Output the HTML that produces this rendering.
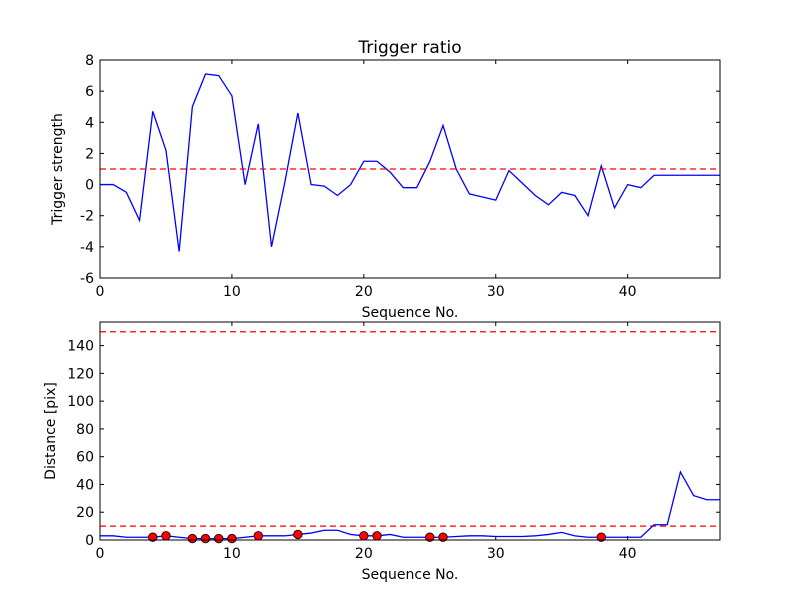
<!DOCTYPE html>
<html><head><meta charset="utf-8"><style>
body{margin:0;background:#fff;}
svg text{font-family:"DejaVu Sans","Liberation Sans",sans-serif;}
</style></head><body>
<svg id="c" width="800" height="600" xmlns="http://www.w3.org/2000/svg">
<rect width="800" height="600" fill="#fff"/>
</svg>
<script>
const seq = [0,1,2,3,4,5,6,7,8,9,10,11,12,13,14,15,16,17,18,19,20,21,22,23,24,25,26,27,28,29,30,31,32,33,34,35,36,37,38,39,40,41,42,43,44,45,46,47];
const strength = [0,0,-0.5,-2.3,4.7,2.2,-4.3,5.0,7.1,7.0,5.7,0,3.9,-4.0,0.1,4.6,0,-0.1,-0.7,0,1.5,1.5,0.8,-0.2,-0.2,1.5,3.8,1,-0.6,-0.8,-1.0,0.9,0.1,-0.7,-1.3,-0.5,-0.7,-2.0,1.2,-1.5,0,-0.2,0.6,0.6,0.6,0.6,0.6,0.6];
const distance = [3,3,2,2,2,3,2,1,1,1,1,2,3,3,3,4,5,7,7,4,3,3,4,2,2,2,2,2.5,3,3,2.5,2.5,2.5,3,4,5.5,3,2,2,2,2,2,11,11,49,32,29,29];
const triggerIdx = [4,5,7,8,9,10,12,15,20,21,25,26,38];
const threshold1 = 1;
const thresholds2 = [10,150];
const xTicks = [0,10,20,30,40];
const yTicks1 = [-6,-4,-2,0,2,4,6,8];
const yTicks2 = [0,20,40,60,80,100,120,140];

const svg = document.getElementById('c');
const NS = 'http://www.w3.org/2000/svg';
function mk(tag, attrs, parent){const e=document.createElementNS(NS,tag);for(const k in attrs)e.setAttribute(k,attrs[k]);(parent||svg).appendChild(e);return e;}

function panel(name, top, bottom, ymin, ymax, yTicks, ylabel){
  const L=100,R=720;
  const g=mk('g',{});
  
  
  const sx=v=>L+(v-0)/(47-0)*(R-L);
  const sy=v=>bottom-(v-ymin)/(ymax-ymin)*(bottom-top);
  xTicks.forEach(t=>{
    const x=sx(t);
    mk('line',{x1:x,x2:x,y1:bottom,y2:bottom-4,stroke:'#000'},g);
    mk('line',{x1:x,x2:x,y1:top,y2:top+4,stroke:'#000'},g);
    const tx=mk('text',{x:x,y:bottom+18,'text-anchor':'middle','font-size':'14'},g);
    tx.textContent=t;
    
    
  });
  yTicks.forEach(t=>{
    const y=sy(t);
    mk('line',{x1:L,x2:L+4,y1:y,y2:y,stroke:'#000'},g);
    mk('line',{x1:R,x2:R-4,y1:y,y2:y,stroke:'#000'},g);
    const tx=mk('text',{x:L-6,y:y+5,'text-anchor':'end','font-size':'14'},g);
    tx.textContent=t;
    
    
  });
  const xl=mk('text',{x:(L+R)/2,y:bottom+39,'text-anchor':'middle','font-size':'14'},g);
  xl.textContent='Sequence No.';
  
  
  const yl=mk('text',{x:0,y:0,'text-anchor':'middle','font-size':'14',transform:`translate(${name==='top-panel'?62:55},${(top+bottom)/2}) rotate(-90)`},g);
  yl.textContent=ylabel;
  
  
  return {g,sx,sy,L,R,top,bottom};
}

const p1=panel('top-panel',60,278,-6,8,yTicks1,'Trigger strength');
const t=mk('text',{x:410,y:53,'text-anchor':'middle','font-size':'17'});
t.textContent='Trigger ratio';


const l1=mk('polyline',{points:seq.map((s,i)=>p1.sx(s)+','+p1.sy(strength[i])).join(' '),fill:'none',stroke:'#0000ff','stroke-width':'1.3'},p1.g);


const h1=mk('line',{x1:p1.L,x2:p1.R,y1:p1.sy(threshold1),y2:p1.sy(threshold1),stroke:'#ff0000','stroke-width':'1.3','stroke-dasharray':'6,4'},p1.g);


mk('rect',{x:100,y:60,width:620,height:218,fill:'none',stroke:'#000','stroke-width':'1'},p1.g);

const p2=panel('bottom-panel',322,540,0,157,yTicks2,'Distance [pix]');
thresholds2.forEach(v=>{
  const h=mk('line',{x1:p2.L,x2:p2.R,y1:p2.sy(v),y2:p2.sy(v),stroke:'#ff0000','stroke-width':'1.3','stroke-dasharray':'6,4'},p2.g);
  
  
});
const l2=mk('polyline',{points:seq.map((s,i)=>p2.sx(s)+','+p2.sy(distance[i])).join(' '),fill:'none',stroke:'#0000ff','stroke-width':'1.3'},p2.g);


triggerIdx.forEach(i=>{
  const c=mk('circle',{cx:p2.sx(seq[i]),cy:p2.sy(distance[i]),r:4.3,fill:'#ff0000',stroke:'#000','stroke-width':'0.8'},p2.g);
  
  
});
mk('rect',{x:100,y:322,width:620,height:218,fill:'none',stroke:'#000','stroke-width':'1'},p2.g);
</script>
</body></html>
